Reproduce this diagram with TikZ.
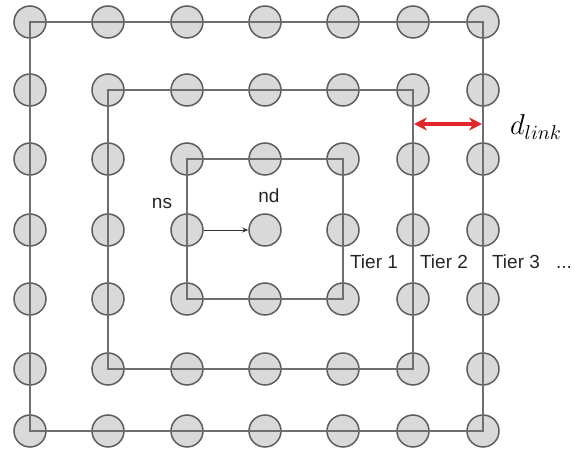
\documentclass[tikz,border=0pt]{standalone}
\usepackage{fontspec}
\setsansfont{Liberation Sans}
\usepackage{tikz}
\usetikzlibrary{arrows.meta}

\definecolor{dotfill}{HTML}{D9D9D9}
\definecolor{dotline}{HTML}{5E5E5E}
\definecolor{tierline}{HTML}{6E6E6E}
\definecolor{linkred}{HTML}{E0262A}

\begin{document}
\begin{tikzpicture}[x=0.5pt,y=-0.5pt,
    dot/.style={circle, fill=dotfill, draw=dotline, line width=0.75pt,
                minimum size=16pt, inner sep=0pt},
    tier/.style={draw=tierline, line width=0.75pt},
    lbl/.style={font=\sffamily\fontsize{9.5}{11}\selectfont, inner sep=0pt, text=black!85}]
    \useasboundingbox (0,0) rectangle (575,449);
    % grid of nodes
    \foreach \x [count=\i] in {30,108,187,265,343,413,483}
        \foreach \y [count=\j] in {22,90,159,230,299,369,431}
            \node[dot] (n\i\j) at (\x,\y) {};
    % tiers
    \draw[tier] (n11.center) -- (n71.center) -- (n77.center) -- (n17.center) -- cycle;
    \draw[tier] (n22.center) -- (n62.center) -- (n66.center) -- (n26.center) -- cycle;
    \draw[tier] (n33.center) -- (n53.center) -- (n55.center) -- (n35.center) -- cycle;
    % source to destination
    \draw[-{Stealth[length=3pt,width=2.5pt]}, line width=0.4pt, black!80] (n34) -- (n44);
    \node[lbl] (ns) at (162,203) {ns};
    \node[lbl] (nd) at (269,196) {nd};
    % link distance
    \coordinate (la) at (414,124);
    \coordinate (lb) at (482,124);
    \draw[linkred, line width=2pt,
          {Stealth[length=6.5pt,width=6.5pt]}-{Stealth[length=6.5pt,width=6.5pt]}] (la) -- (lb);
    \node[font=\fontsize{14}{16}\selectfont, inner sep=0pt] (dlink) at (536,127) {$d_{link}$};
    % tier labels
    \node[lbl] (t1) at (374,262) {Tier 1};
    \node[lbl] (t2) at (444,262) {Tier 2};
    \node[lbl] (t3) at (516,262) {Tier 3};
    \node[lbl] (dots) at (564,267) {...};
\end{tikzpicture}
\end{document}
